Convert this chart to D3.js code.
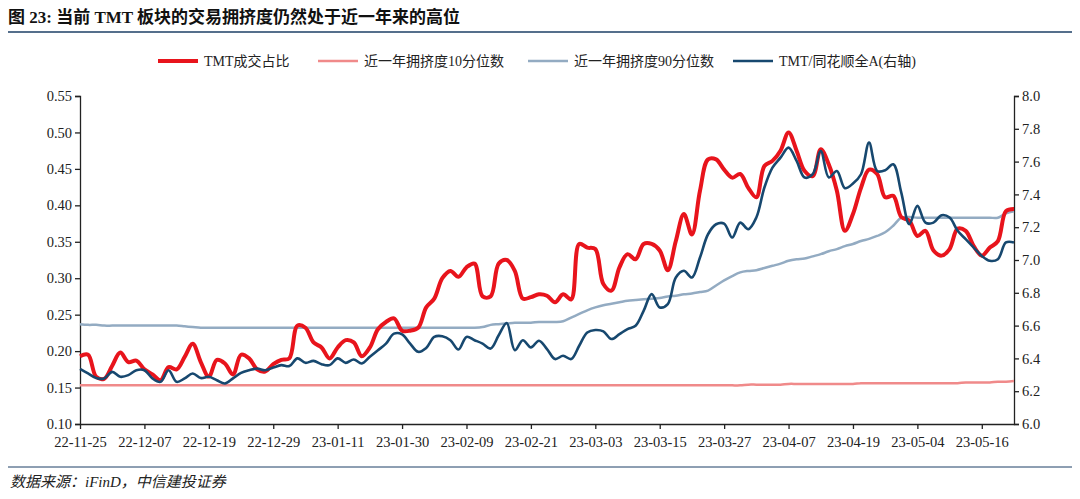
<!DOCTYPE html>
<html><head><meta charset="utf-8">
<script src="https://cdn.jsdelivr.net/npm/d3@7"></script>
<style>
body{margin:0;background:#fff;}
text{font-family:"Liberation Serif","Noto Sans CJK SC",serif;}
</style></head>
<body><svg width="1080" height="499"></svg>
<script>
// x tick labels, one every 8 trading days
const tickLabels = ['22-11-25','22-12-07','22-12-19','22-12-29','23-01-11','23-01-30','23-02-09','23-02-21','23-03-03','23-03-15','23-03-27','23-04-07','23-04-19','23-05-04','23-05-16'];

const tmtShare = [0.193,0.195,0.165,0.162,0.18,0.198,0.185,0.187,0.175,0.168,0.160,0.178,0.175,0.192,0.21,0.185,0.165,0.188,0.183,0.168,
  0.195,0.19,0.175,0.172,0.182,0.188,0.19,0.235,0.232,0.212,0.205,0.19,0.205,0.215,0.212,0.193,0.205,0.23,0.24,0.245,
  0.228,0.228,0.232,0.26,0.272,0.3,0.31,0.302,0.315,0.32,0.275,0.275,0.32,0.325,0.31,0.272,0.274,0.278,0.276,0.267,
  0.278,0.271,0.347,0.342,0.34,0.292,0.283,0.315,0.333,0.326,0.347,0.347,0.338,0.311,0.351,0.388,0.36,0.42,0.463,0.463,
  0.449,0.438,0.443,0.424,0.411,0.454,0.461,0.475,0.50,0.475,0.447,0.44,0.477,0.456,0.42,0.365,0.388,0.424,0.449,0.443,
  0.411,0.413,0.384,0.379,0.358,0.365,0.338,0.331,0.34,0.368,0.365,0.344,0.331,0.342,0.351,0.392,0.395];

const p10 = [0.153,0.153,0.153,0.153,0.153,0.153,0.153,0.153,0.153,0.153,0.153,0.153,0.153,0.153,0.153,0.153,0.153,0.153,0.153,0.153,
  0.153,0.153,0.153,0.153,0.153,0.153,0.153,0.153,0.153,0.153,0.153,0.153,0.153,0.153,0.153,0.153,0.153,0.153,0.153,0.153,
  0.153,0.153,0.153,0.153,0.153,0.153,0.153,0.153,0.153,0.153,0.153,0.153,0.153,0.153,0.153,0.153,0.153,0.153,0.153,0.153,
  0.153,0.153,0.153,0.153,0.153,0.153,0.153,0.153,0.153,0.153,0.153,0.153,0.153,0.153,0.153,0.153,0.153,0.153,0.153,0.153,
  0.153,0.153,0.153,0.154,0.154,0.154,0.154,0.154,0.155,0.155,0.155,0.155,0.155,0.155,0.155,0.155,0.155,0.156,0.156,0.156,
  0.156,0.156,0.156,0.156,0.156,0.156,0.156,0.156,0.156,0.156,0.157,0.157,0.157,0.157,0.158,0.158,0.159];

const p90 = [0.237,0.236,0.236,0.235,0.235,0.235,0.235,0.235,0.235,0.235,0.235,0.235,0.235,0.234,0.233,0.232,0.232,0.232,0.232,0.232,
  0.232,0.232,0.232,0.232,0.232,0.232,0.232,0.232,0.232,0.232,0.232,0.232,0.232,0.232,0.232,0.232,0.232,0.232,0.232,0.232,
  0.232,0.232,0.232,0.232,0.232,0.232,0.232,0.232,0.232,0.232,0.233,0.236,0.237,0.238,0.239,0.239,0.239,0.240,0.240,0.240,
  0.241,0.246,0.251,0.256,0.260,0.263,0.265,0.267,0.269,0.270,0.271,0.272,0.273,0.275,0.276,0.278,0.279,0.281,0.283,0.290,
  0.297,0.303,0.308,0.310,0.311,0.314,0.317,0.320,0.324,0.326,0.327,0.330,0.333,0.337,0.340,0.344,0.347,0.351,0.354,0.358,
  0.363,0.372,0.383,0.384,0.383,0.383,0.383,0.383,0.383,0.383,0.383,0.383,0.383,0.383,0.383,0.389,0.392];

const tmtVsAll = [6.336,6.308,6.28,6.278,6.318,6.288,6.298,6.328,6.328,6.278,6.257,6.328,6.257,6.278,6.308,6.28,6.288,6.267,6.247,6.278,
  6.312,6.328,6.338,6.328,6.344,6.359,6.353,6.4,6.373,6.385,6.365,6.359,6.4,6.373,6.393,6.369,6.41,6.45,6.49,6.551,
  6.547,6.49,6.44,6.464,6.531,6.535,6.511,6.454,6.531,6.511,6.49,6.46,6.541,6.616,6.45,6.511,6.467,6.508,6.457,6.396,
  6.416,6.396,6.477,6.558,6.573,6.565,6.518,6.548,6.579,6.599,6.69,6.792,6.711,6.731,6.893,6.934,6.893,7.015,7.157,7.218,
  7.222,7.137,7.228,7.188,7.259,7.442,7.563,7.624,7.685,7.604,7.503,7.523,7.665,7.503,7.543,7.438,7.466,7.523,7.716,7.543,
  7.547,7.584,7.411,7.218,7.33,7.228,7.228,7.273,7.259,7.178,7.127,7.076,7.025,6.995,7.005,7.107,7.107];

const svg = d3.select('svg');
const m = {l: 80, r: 1014, t: 96, b: 424};

const x = d3.scaleLinear().domain([0, tmtShare.length - 1]).range([m.l, m.r]);
const yL = d3.scaleLinear().domain([0.10, 0.55]).range([m.b, m.t]);
const yR = d3.scaleLinear().domain([6.0, 8.0]).range([m.b, m.t]);

// title and source
svg.append('text').attr('x', 8).attr('y', 23).attr('font-size', 17).attr('font-weight', 'bold')
  .attr('fill', '#111').text('图 23: 当前 TMT 板块的交易拥挤度仍然处于近一年来的高位');
svg.append('line').attr('x1', 8).attr('x2', 1072).attr('y1', 32).attr('y2', 32).attr('stroke', '#1c3f66').attr('stroke-width', 1.5);
svg.append('line').attr('x1', 8).attr('x2', 1072).attr('y1', 467).attr('y2', 467).attr('stroke', '#1c3f66').attr('stroke-width', 1);
svg.append('text').attr('x', 10).attr('y', 487).attr('font-size', 15).attr('font-style', 'italic')
  .attr('fill', '#222').text('数据来源：iFinD，中信建投证券');

// axes
const axL = d3.axisLeft(yL).tickValues(d3.range(0.10, 0.551, 0.05)).tickFormat(d3.format('.2f')).tickSize(5);
const axR = d3.axisRight(yR).tickValues(d3.range(6.0, 8.01, 0.2)).tickFormat(d3.format('.1f')).tickSize(5);
const axB = d3.axisBottom(x).tickValues(tickLabels.map((d, i) => i * 8)).tickFormat((d, i) => tickLabels[i]).tickSize(5).tickSizeOuter(0);

function styleAxis(g) {
  g.select('.domain').attr('stroke', '#222').attr('stroke-width', 1.3);
  g.selectAll('.tick line').attr('stroke', '#222').attr('stroke-width', 1.3);
  g.selectAll('text').attr('font-size', 14.5).attr('fill', '#222').attr('font-family', 'Liberation Serif');
}
svg.append('g').attr('transform', `translate(${m.l},0)`).call(axL).call(styleAxis);
svg.append('g').attr('transform', `translate(${m.r},0)`).call(axR).call(styleAxis);
svg.append('g').attr('transform', `translate(0,${m.b})`).call(axB).call(styleAxis)
  .selectAll('text').attr('dy', '1.05em');

const series = [
  {name: '近一年拥挤度10分位数', data: p10, y: yL, color: '#f08a8a', w: 2.5},
  {name: '近一年拥挤度90分位数', data: p90, y: yL, color: '#93abc2', w: 2.5},
  {name: 'TMT成交占比', data: tmtShare, y: yL, color: '#e8141c', w: 4},
  {name: 'TMT/同花顺全A(右轴)', data: tmtVsAll, y: yR, color: '#17486f', w: 2.6},
];

series.forEach(s => {
  const line = d3.line().x((d, i) => x(i)).y(d => s.y(d)).curve(d3.curveCatmullRom.alpha(0.5));
  svg.append('path').datum(s.data).attr('d', line).attr('fill', 'none')
    .attr('stroke', s.color).attr('stroke-width', s.w).attr('stroke-linejoin', 'round');
});

// legend
const legend = [
  {s: series[2], x: 158},
  {s: series[0], x: 318},
  {s: series[1], x: 528},
  {s: series[3], x: 733},
];
legend.forEach(({s, x: lx}) => {
  svg.append('line').attr('x1', lx).attr('x2', lx + 40).attr('y1', 61).attr('y2', 61)
    .attr('stroke', s.color).attr('stroke-width', s.w);
  svg.append('text').attr('x', lx + 46).attr('y', 66).attr('font-size', 14).attr('fill', '#222').text(s.name);
});
</script>
</body></html>
